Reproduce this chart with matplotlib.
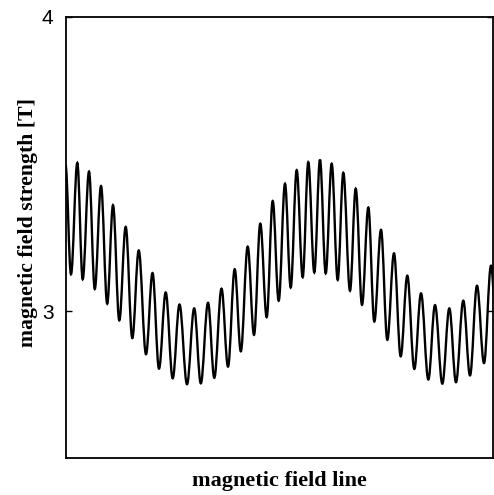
import matplotlib
matplotlib.use("Agg")
import matplotlib.pyplot as plt
from matplotlib.path import Path
from matplotlib.patches import PathPatch

# Local maxima / minima of the field strength
peak_pos = [-0.12, 2.65, 5.39, 8.20, 11.01, 13.98, 17.03, 20.26, 23.35, 26.58,
            30.02, 33.26, 36.42, 39.51, 42.55, 45.50, 48.41, 51.29, 54.03, 56.74,
            59.48, 62.22, 64.94, 67.85, 70.80, 73.77, 76.81, 79.93, 83.14, 86.42,
            89.77, 93.04, 96.25, 99.53]
peak_B = [3.498, 3.504, 3.474, 3.425, 3.360, 3.286, 3.206, 3.129, 3.063, 3.022,
          3.009, 3.028, 3.076, 3.142, 3.219, 3.297, 3.374, 3.433, 3.479, 3.506,
          3.515, 3.501, 3.470, 3.416, 3.352, 3.276, 3.196, 3.120, 3.060, 3.020,
          3.009, 3.035, 3.086, 3.154]
trough_pos = [1.17, 3.91, 6.74, 9.65, 12.48, 15.53, 18.74, 21.78, 24.99, 28.34,
              31.57, 34.73, 37.94, 40.94, 44.03, 47.00, 49.81, 52.62, 55.43, 58.15,
              60.82, 63.63, 66.51, 69.32, 72.20, 75.25, 78.38, 81.57, 84.85, 88.13,
              91.33, 94.61, 97.89, 101.05]
trough_B = [3.125, 3.108, 3.075, 3.025, 2.968, 2.908, 2.853, 2.804, 2.771, 2.751,
            2.754, 2.773, 2.811, 2.863, 2.919, 2.979, 3.035, 3.080, 3.115, 3.131,
            3.128, 3.106, 3.069, 3.021, 2.964, 2.902, 2.846, 2.803, 2.767, 2.753,
            2.758, 2.781, 2.823, 2.871]

y_ticks = [3, 4]
y_ticklabels = ["3", "4"]
x_label = "magnetic field line"
y_label = "magnetic field strength [T]"

fig = plt.figure(figsize=(4.94, 4.95), dpi=100)
ax = fig.add_axes([0.1336, 0.0747, 0.8644, 0.891])

# interleave extrema
pts = []
for i in range(len(peak_pos)):
    pts.append((peak_pos[i], peak_B[i]))
    pts.append((trough_pos[i], trough_B[i]))

# smooth curve through extrema (horizontal tangents at each extremum)
k = 0.363
verts = [pts[0]]
codes = [Path.MOVETO]
for (x0, y0), (x1, y1) in zip(pts[:-1], pts[1:]):
    d = (x1 - x0) * k
    verts += [(x0 + d, y0), (x1 - d, y1), (x1, y1)]
    codes += [Path.CURVE4] * 3
patch = PathPatch(Path(verts, codes), facecolor="none", edgecolor="black",
                  lw=1.7, transform=ax.transData)
ax.add_patch(patch)

ax.set_xlim(0, 100)
ax.set_ylim(2.5, 4.0)
ax.set_xticks([])
ax.set_yticks(y_ticks)
ax.set_yticklabels(y_ticklabels, family="Liberation Sans", fontsize=15)
ax.tick_params(axis="y", direction="in", length=4, width=1.0, right=True,
               pad=9, colors="black")
for s in ax.spines.values():
    s.set_linewidth(1.3)

ax.set_xlabel(x_label, family="Liberation Serif", fontweight="bold",
              fontsize=16, labelpad=9)
ax.set_ylabel(y_label, family="Liberation Serif", fontweight="bold",
              fontsize=15.7)
ax.yaxis.set_label_coords(-0.066, 0.533)

fig.savefig("out.png", dpi=100)
